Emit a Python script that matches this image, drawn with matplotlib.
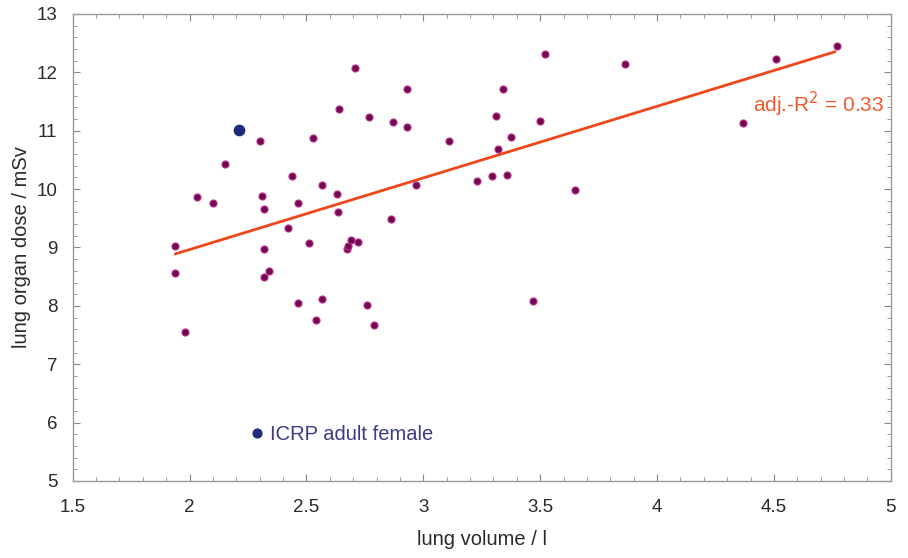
import numpy as np
import matplotlib.pyplot as plt
from matplotlib.ticker import MultipleLocator

# ------------ DATA -------------
lung_volume = [1.94, 1.94, 1.98, 2.03, 2.10, 2.15, 2.30, 2.31, 2.32, 2.32,
               2.32, 2.34, 2.42, 2.44, 2.466, 2.466, 2.51, 2.53, 2.54, 2.565,
               2.567, 2.63, 2.636, 2.64, 2.675, 2.68, 2.69, 2.71, 2.72, 2.76,
               2.77, 2.79, 2.86, 2.87, 2.93, 2.93, 2.97, 3.11, 3.23, 3.295,
               3.31, 3.32, 3.34, 3.36, 3.377, 3.47, 3.50, 3.52, 3.65, 3.865,
               4.37, 4.51, 4.77]
lung_dose = [9.03, 8.56, 7.55, 9.86, 9.76, 10.43, 10.82, 9.88, 9.66, 8.97,
             8.50, 8.59, 9.33, 10.23, 9.77, 8.05, 9.08, 10.87, 7.75, 10.07,
             8.11, 9.91, 9.60, 11.37, 8.97, 9.03, 9.13, 12.07, 9.10, 8.01,
             11.24, 7.67, 9.48, 11.15, 11.71, 11.07, 10.07, 10.83, 10.14, 10.22,
             11.25, 10.69, 11.71, 10.24, 10.90, 8.09, 11.17, 12.32, 9.99, 12.14,
             11.13, 12.23, 12.45]

icrp_volume = [2.21]
icrp_dose = [11.01]

fit_x = [1.94, 4.76]
fit_slope = 1.227
fit_intercept = 6.51
fit_label = "adj.-R$^2$ = 0.33"
# -------------------------------

plt.rcParams['font.family'] = ['Liberation Sans', 'DejaVu Sans']

fig = plt.figure(figsize=(9.08, 5.58), dpi=100)
ax = fig.add_axes([0.080, 0.138, 0.901, 0.837])

ax.scatter(lung_volume, lung_dose, s=26, color='#6e0a52', edgecolors='#c0308a',
           linewidths=0.8, zorder=3)

fx = np.array(fit_x)
ax.plot(fx, fit_intercept + fit_slope * fx, color='#f0461c', lw=2, zorder=2)
ax.text(4.69, 11.32, fit_label, color='#f05a2a', fontsize=15,
        ha='center', va='baseline')

ax.scatter(icrp_volume, icrp_dose, s=55, color='#1f2a7a', zorder=4)

# legend-like annotation
ax.scatter([2.29], [5.83], s=40, color='#1f2a7a', zorder=4)
ax.text(2.343, 5.71, "ICRP adult female", color='#3a3a88', fontsize=14.5,
        ha='left', va='baseline')

ax.set_xlim(1.5, 5)
ax.set_ylim(5, 13)
ax.xaxis.set_major_locator(MultipleLocator(0.5))
ax.xaxis.set_minor_locator(MultipleLocator(0.1))
ax.yaxis.set_major_locator(MultipleLocator(1))
ax.yaxis.set_minor_locator(MultipleLocator(0.2))
ax.xaxis.set_major_formatter(plt.FuncFormatter(lambda v, p: f"{v:g}"))
ax.yaxis.set_major_formatter(plt.FuncFormatter(lambda v, p: f"{v:g}"))

ax.tick_params(which='both', direction='in', top=True, right=True,
               color='#888888', labelsize=13.5, labelcolor='#2a2a2a')
ax.tick_params(which='major', length=5, width=0.8)
ax.tick_params(which='minor', length=3, width=0.6)
ax.tick_params(axis='x', pad=13)
ax.tick_params(axis='y', pad=11)
for sp in ax.spines.values():
    sp.set_color('#999999')
    sp.set_linewidth(1)

ax.set_xlabel("lung volume / l", fontsize=14.5, color='#2a2a2a', labelpad=10)
ax.set_ylabel("lung organ dose / mSv", fontsize=14.5, color='#2a2a2a', labelpad=4)

fig.savefig("out.png", dpi=100)
